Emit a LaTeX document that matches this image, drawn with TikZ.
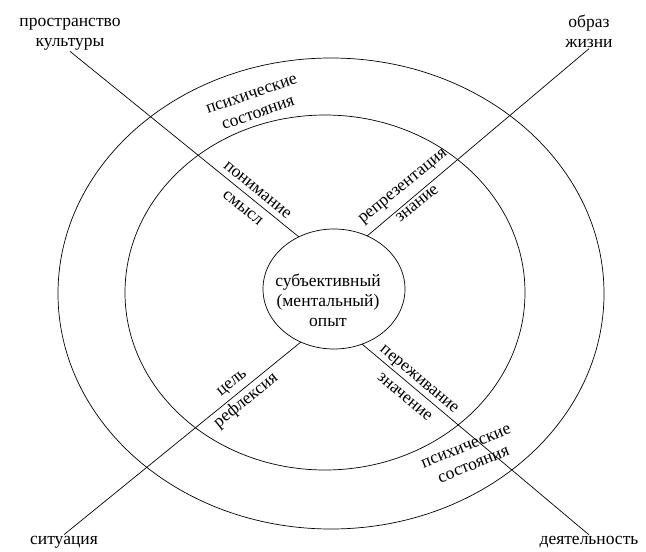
\documentclass[tikz,border=0pt]{standalone}
\usepackage{fontspec}
\setmainfont{Liberation Serif}
\usetikzlibrary{shapes.geometric, positioning}
\tikzset{
  txt/.style={font=\fontsize{17.5}{20}\selectfont, align=center, inner sep=1pt},
  pair/.style={txt, font=\fontsize{17.5}{23}\selectfont, inner sep=0pt, rotate=#1},
  pair/.default=0,
  ringtxt/.style={txt, inner sep=0pt, rotate=#1},
  ringtxt/.default=0,
  core/.style={draw, ellipse, minimum width=142pt, minimum height=120pt, outer sep=0pt}
}

\begin{document}
\begin{tikzpicture}[x=1pt, y=-1pt, line width=0.7pt]
  \useasboundingbox (0,0) rectangle (646,552);
  % rings
  \draw (331,293.5) ellipse [x radius=273, y radius=235.5];
  \draw (325,292.5) ellipse [x radius=200, y radius=177.5];
  \node[core] (exp) at (334,289) {};
  \node[txt] (exptxt) at (328,300) {субъективный\\(ментальный)\\опыт};
  %
  \node[txt] (culture) at (70,34) {пространство\\культуры};
  \node[txt] (life) at (589,31) {образ\\жизни};
  \node[txt] (situation) at (64,542) {ситуация};
  \node[txt] (activity) at (589,542) {деятельность};
  \draw (culture.south) -- (exp.124);
  \draw (life.south) -- (exp.58);
  \draw (situation.north) -- (exp.238);
  \draw (activity.north) -- (exp.297);
  %
  \node[pair=-39] (sense) at (250,199) {понимание\\смысл};
  \node[pair=39] (knowledge) at (410,195) {репрезентация\\знание};
  \node[pair=39] (reflection) at (240,393) {цель\\рефлексия};
  \node[pair=-40] (meaning) at (412,388) {переживание\\значение};
  \node[ringtxt=19] (statestop) at (255,104) {психические\\состояния};
  \node[ringtxt=22] (statesbot) at (470,456) {психические\\состояния};
\end{tikzpicture}
\end{document}
